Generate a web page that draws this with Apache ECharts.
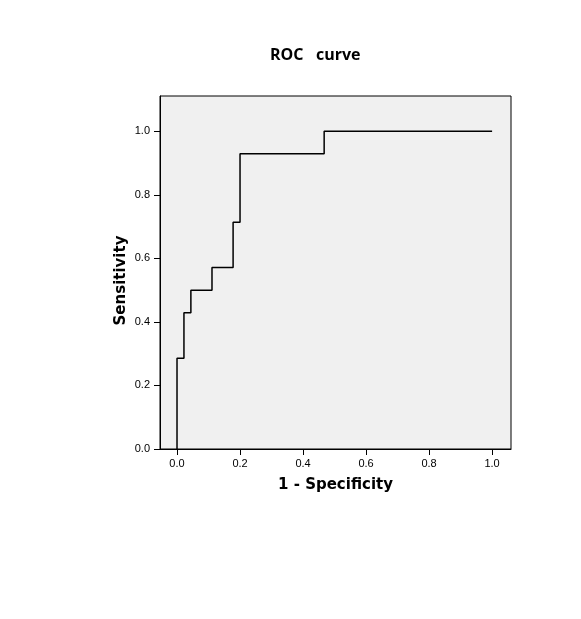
<!DOCTYPE html>
<html>
<head>
<meta charset="utf-8">
<script src="https://cdn.jsdelivr.net/npm/echarts@6/dist/echarts.min.js"></script>
<style>
  html, body { margin: 0; padding: 0; background: #fff; }
  #chart { width: 581px; height: 619px; }
</style>
</head>
<body>
<div id="chart"></div>
<script>
// ROC points (1 - specificity, sensitivity), drawn as a staircase
var fpr = [0, 0, 0.022, 0.044, 0.111, 0.178, 0.2, 0.467, 1.0];
var tpr = [0, 0.286, 0.429, 0.5, 0.571, 0.714, 0.929, 1.0, 1.0];
var tickValues = [0, 0.2, 0.4, 0.6, 0.8, 1.0];

var chart = echarts.init(document.getElementById('chart'), null, { renderer: 'canvas' });

var points = [];
for (var i = 0; i < fpr.length; i++) {
  points.push([fpr[i], tpr[i]]);
}

var option = {
  backgroundColor: '#ffffff',
  animation: false,
  title: {
    text: 'ROC\u00a0\u00a0\u00a0curve',
    left: 265,
    top: 42,
    textStyle: {
      fontFamily: 'Open Sans',
      fontWeight: 'bold',
      fontSize: 16,
      color: '#000'
    }
  },
  grid: {
    left: 160,
    top: 96,
    right: 70,
    bottom: 170,
    show: true,
    backgroundColor: '#f0f0f0',
    borderColor: '#000',
    borderWidth: 1
  },
  xAxis: {
    type: 'value',
    min: -0.054,
    max: 1.06,
    name: '1 - Specificity',
    nameLocation: 'middle',
    nameGap: 29,
    nameMoveOverlap: false,
    nameTextStyle: {
      fontFamily: 'DejaVu Sans',
      fontWeight: 'bold',
      fontSize: 15,
      color: '#000'
    },
    splitLine: { show: false },
    axisLine: { show: true, onZero: false, lineStyle: { color: '#000', width: 1 } },
    axisTick: { show: true, customValues: tickValues, length: 6, lineStyle: { color: '#000' } },
    axisLabel: {
      customValues: tickValues,
      formatter: function (v) { return v.toFixed(1); },
      fontFamily: 'Liberation Sans',
      fontSize: 11,
      color: '#000',
      margin: 9
    }
  },
  yAxis: {
    type: 'value',
    min: 0,
    max: 1.111,
    name: 'Sensitivity',
    nameLocation: 'middle',
    nameGap: 31,
    nameMoveOverlap: false,
    nameTextStyle: {
      fontFamily: 'DejaVu Sans',
      fontWeight: 'bold',
      fontSize: 15,
      color: '#000',
      padding: [0, 16, 0, 0]
    },
    splitLine: { show: false },
    axisLine: { show: true, onZero: false, lineStyle: { color: '#000', width: 1 } },
    axisTick: { show: true, customValues: tickValues, length: 6, lineStyle: { color: '#000' } },
    axisLabel: {
      customValues: tickValues,
      formatter: function (v) { return v.toFixed(1); },
      fontFamily: 'Liberation Sans',
      fontSize: 11,
      color: '#000',
      margin: 10
    }
  },
  series: [{
    type: 'line',
    data: points,
    step: 'end',
    showSymbol: false,
    symbol: 'none',
    lineStyle: { color: '#000', width: 1.5 },
    silent: true
  }]
};

chart.setOption(option);
</script>
</body>
</html>
